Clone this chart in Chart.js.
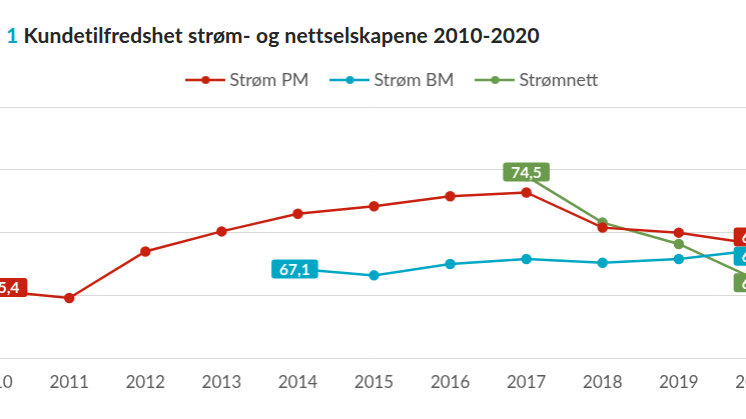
<!DOCTYPE html>
<html><head><meta charset="utf-8">
<script src="https://cdn.jsdelivr.net/npm/chart.js@4.4.1/dist/chart.umd.min.js"></script>
<style>
html,body{margin:0;padding:0;background:#fff;overflow:hidden;width:746px;height:419px;position:relative;}
#title{position:absolute;left:6px;top:23px;font-family:Lato,sans-serif;font-weight:bold;font-size:21px;letter-spacing:0.13px;line-height:24px;color:#262626;white-space:nowrap;}
#title .num{color:#00A7C4;}
#wrap{position:absolute;left:-46.8px;top:45px;width:881.6px;height:353.3px;}
</style></head><body>
<div id="title"><span class="num">1</span> Kundetilfredshet strøm- og nettselskapene 2010-2020</div>
<div id="wrap"><canvas id="c"></canvas></div>
<script>
const years = ['2010','2011','2012','2013','2014','2015','2016','2017','2018','2019','2020'];
const stromPM = [65.4, 64.8, 68.5, 70.1, 71.5, 72.1, 72.9, 73.2, 70.4, 70.0, 69.1];
const stromBM = [null, null, null, null, 67.1, 66.6, 67.5, 67.9, 67.6, 67.9, 68.6];
const stromnett = [null, null, null, null, null, null, null, 74.5, 70.8, 69.1, 66.3];
const seriesNames = ['Strøm PM', 'Strøm BM', 'Strømnett'];
const yTicks = [60, 65, 70, 75, 80];

const colors = ['#C9210F', '#00A7C4', '#6A9A4B'];

function marker(color) {
  const c = document.createElement('canvas');
  c.width = 40; c.height = 10;
  const g = c.getContext('2d');
  g.strokeStyle = color; g.lineWidth = 2.5;
  g.beginPath(); g.moveTo(0, 5); g.lineTo(40, 5); g.stroke();
  g.fillStyle = color;
  g.beginPath(); g.arc(20, 5, 4, 0, Math.PI * 2); g.fill();
  return c;
}
const markers = colors.map(marker);

const legendGap = {
  id: 'legendGap',
  beforeInit(chart) {
    if (chart.legend && !chart.legend._patched) {
      const fit = chart.legend.fit;
      chart.legend.fit = function () { fit.call(this); this.height += 8; };
      chart.legend._patched = true;
    }
  }
};

const valueLabels = {
  id: 'valueLabels',
  afterDatasetsDraw(chart, args, opts) {
    const ctx = chart.ctx;
    chart.data.datasets.forEach((ds, di) => {
      const meta = chart.getDatasetMeta(di);
      let first = -1, last = -1;
      ds.data.forEach((v, i) => { if (v !== null) { if (first < 0) first = i; last = i; } });
      const sh = opts.shifts[di];
      [[first, sh.first], [last, sh.last]].forEach(([idx, s]) => {
        const el = meta.data[idx];
        if (!el) return;
        const txt = ds.data[idx].toFixed(1).replace('.', ',');
        ctx.save();
        ctx.font = 'bold 15.5px Lato';
        const tw = ctx.measureText(txt).width;
        const w = tw + 16, h = 19;
        const cx = el.x + s[0], cy = el.y + s[1];
        ctx.fillStyle = ds.borderColor;
        ctx.beginPath();
        ctx.roundRect(cx - w / 2, cy - h / 2, w, h, 3);
        ctx.fill();
        ctx.fillStyle = '#fff';
        ctx.textAlign = 'center';
        ctx.textBaseline = 'middle';
        ctx.fillText(txt, cx, cy + 1);
        ctx.restore();
      });
    });
  }
};

const seriesData = [stromPM, stromBM, stromnett];

new Chart(document.getElementById('c'), {
  type: 'line',
  data: {
    labels: years,
    datasets: seriesData.map((d, i) => ({
      label: seriesNames[i],
      data: d,
      borderColor: colors[i],
      backgroundColor: colors[i],
      pointBackgroundColor: colors[i],
      pointBorderColor: colors[i],
      borderWidth: 2.5,
      pointRadius: 4,
      pointHoverRadius: 4,
      tension: 0,
      fill: false
    }))
  },
  options: {
    responsive: true,
    maintainAspectRatio: false,
    animation: false,
    events: [],
    layout: { padding: 0 },
    font: { family: 'Lato' },
    plugins: {
      title: { display: false },
      tooltip: { enabled: false },
      legend: {
        display: true,
        position: 'top',
        labels: {
          usePointStyle: true,
          pointStyleWidth: 30,
          padding: 26,
          color: '#595959',
          font: { family: 'Lato', size: 18 },
          generateLabels(chart) {
            const items = Chart.defaults.plugins.legend.labels.generateLabels(chart);
            items.forEach(it => { it.pointStyle = markers[it.datasetIndex]; });
            return items;
          }
        }
      },
      valueLabels: {
        shifts: [
          { first: [11, -3], last: [2, -7] },
          { first: [-3, 0], last: [2, 6] },
          { first: [0, -4], last: [2, 3.5] }
        ]
      }
    },
    scales: {
      x: {
        grid: { display: false, drawTicks: false },
        border: { display: false },
        ticks: { color: '#595959', font: { family: 'Lato', size: 17 }, padding: 14, maxRotation: 0, autoSkip: false },
        afterFit(s) { s.height = 40; }
      },
      y: {
        min: 60, max: 80,
        grid: { color: '#D9D9D9', lineWidth: 1, drawTicks: false },
        border: { display: false },
        ticks: { color: '#595959', font: { family: 'Lato', size: 17 }, padding: 8 },
        afterBuildTicks(s) { s.ticks = yTicks.map(v => ({ value: v })); },
        afterFit(s) { s.width = 40; }
      },
      yR: {
        position: 'right',
        display: true,
        grid: { display: false, drawTicks: false },
        border: { display: false },
        ticks: { display: false },
        afterFit(s) { s.width = 80.6; }
      }
    }
  },
  plugins: [legendGap, valueLabels]
});
</script>
</body></html>
